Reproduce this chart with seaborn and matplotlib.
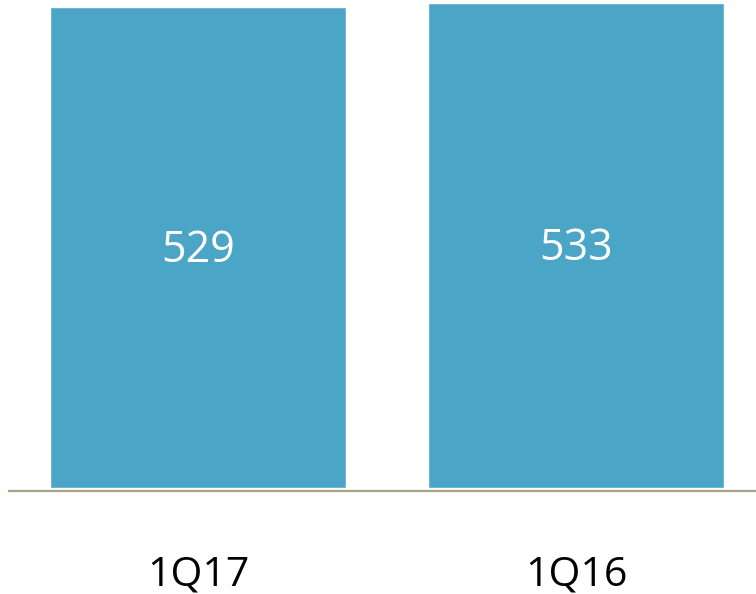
import matplotlib
matplotlib.use("Agg")
import matplotlib.pyplot as plt
import seaborn as sns
import pandas as pd

# Quarterly totals
quarters = ["1Q17", "1Q16"]
values = [529, 533]

sns.set_theme(style="white")
plt.rcParams["font.family"] = ["Open Sans", "DejaVu Sans"]

df = pd.DataFrame({"quarter": quarters, "value": values})

fig = plt.figure(figsize=(7.56, 5.94), dpi=100)
# axes spans from a small left margin to the right edge; bottom at the baseline
ax = fig.add_axes([9 / 756, 1 - 491 / 594, 1 - 9 / 756, 491 / 594])

sns.barplot(data=df, x="quarter", y="value", color="#4BA5C6", saturation=1,
            width=0.783, ax=ax)

# value labels centred in each bar
for i, v in enumerate(values):
    ax.annotate(f"{v}", xy=(i, v / 2), xytext=(0, -2.5),
                textcoords="offset points", ha="center", va="center",
                color="white", fontsize=31)

ax.set_xlim(-0.5, 1.476)
ax.set_ylim(-3.85, 536.3)
ax.set_xlabel("")
ax.set_ylabel("")
ax.set_yticks([])
ax.tick_params(axis="x", length=0, pad=46, labelsize=29.5, labelcolor="black")
for s in ["top", "right", "left"]:
    ax.spines[s].set_visible(False)
ax.spines["bottom"].set_color("#A89F88")
ax.spines["bottom"].set_linewidth(1.6)

fig.savefig("out.png", dpi=100)
